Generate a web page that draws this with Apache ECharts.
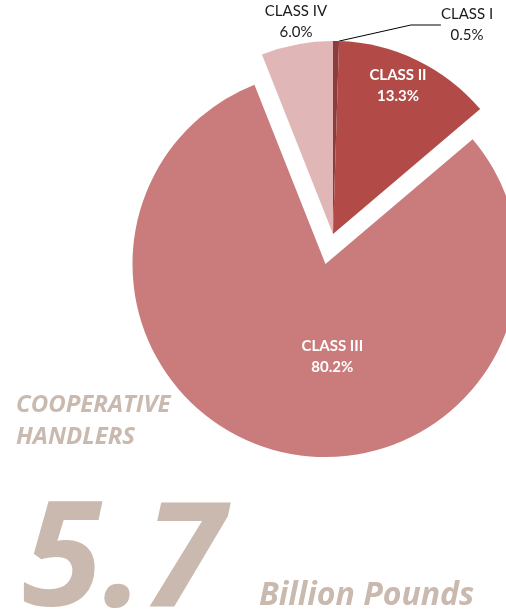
<!DOCTYPE html>
<html>
<head>
<meta charset="utf-8">
<script src="https://cdn.jsdelivr.net/npm/echarts@6/dist/echarts.min.js"></script>
<style>
  html, body { margin: 0; padding: 0; background: #fff; }
  #main { width: 506px; height: 611px; }
</style>
</head>
<body>
<div id="main"></div>
<script>
  var categories = ['CLASS I', 'CLASS II', 'CLASS III', 'CLASS IV'];
  var shares = [0.5, 13.3, 80.2, 6.0];
  var colors = ['#8e3b3b', '#b24a47', '#c97c7b', '#e0b7b6'];

  // where each label sits (dataIndex order); the exploded slice uses an offset instead
  var labelPos = [
    { x: 467, y: 25, color: '#1a1a1a', bold: false, line: [[338, 42], [433, 18], [440, 18]] },
    { x: 398, y: 86, color: '#ffffff', bold: true },
    { offset: [31, -4], color: '#ffffff', bold: true },
    { x: 296, y: 22, color: '#1a1a1a', bold: false }
  ];

  var labelFont = 'Lato, "Open Sans", sans-serif';
  var bigFont = '"Open Sans", "Noto Sans", sans-serif';
  var beige = '#c9b9ae';

  var pieData = categories.map(function (name, i) {
    var lab = {
      show: true,
      color: labelPos[i].color,
      fontWeight: labelPos[i].bold ? 'bold' : 'normal'
    };
    if (labelPos[i].offset) lab.offset = labelPos[i].offset;
    return {
      name: name,
      value: shares[i],
      selected: name === 'CLASS III',
      itemStyle: { color: colors[i] },
      label: lab,
      select: { label: lab, itemStyle: { color: colors[i] } },
      labelLine: { show: name === 'CLASS I' }
    };
  });

  var myChart = echarts.init(document.getElementById('main'));
  myChart.setOption({
    animation: false,
    backgroundColor: '#ffffff',
    graphic: [
      {
        type: 'text', left: 16, top: 389,
        style: { text: 'COOPERATIVE\nHANDLERS', fill: beige, font: 'italic bold 24px ' + bigFont, lineHeight: 32 }
      },
      {
        type: 'text', left: 22, top: 491,
        style: { text: '5.7', fill: beige, font: 'italic bold 146px ' + bigFont }
      },
      {
        type: 'text', left: 259, top: 580,
        style: { text: 'Billion Pounds', fill: beige, font: 'italic bold 32px ' + bigFont }
      }
    ],
    series: [{
      type: 'pie',
      center: [333, 234],
      radius: 193,
      startAngle: 90,
      clockwise: true,
      selectedMode: 'single',
      selectedOffset: 31,
      avoidLabelOverlap: false,
      emphasis: { disabled: true },
      label: {
        show: true,
        position: 'inside',
        fontFamily: labelFont,
        fontSize: 15,
        lineHeight: 21,
        formatter: function (p) { return p.name + '\n' + p.value.toFixed(1) + '%'; }
      },
      labelLine: { lineStyle: { color: '#000', width: 1 }, smooth: false },
      labelLayout: function (p) {
        var lp = labelPos[p.dataIndex];
        if (lp.x === undefined) return {};
        var out = { x: lp.x, y: lp.y, align: 'center', verticalAlign: 'middle' };
        if (lp.line) out.labelLinePoints = lp.line;
        return out;
      },
      data: pieData
    }]
  });
</script>
</body>
</html>
